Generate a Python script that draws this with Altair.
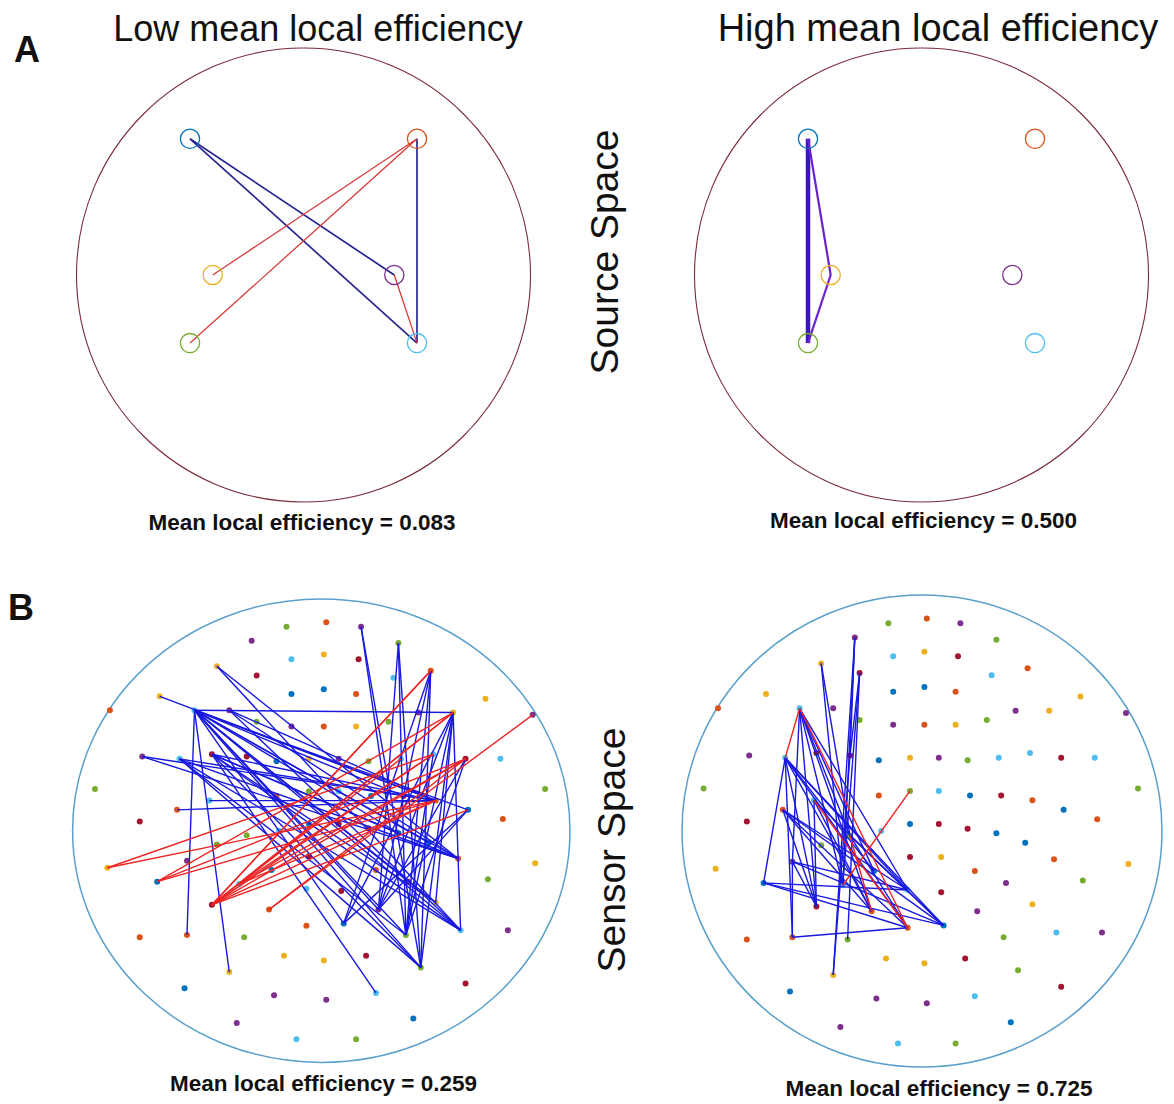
import altair as alt
import pandas as pd

# ---------------- data ----------------
PALETTE_NAMES = ["blue", "orange", "yellow", "purple", "green", "cyan", "darkred"]
PALETTE_HEX = ["#0072BD", "#D95319", "#EDB120", "#7E2F8E", "#77AC30", "#4DBEEE", "#A2142F"]

# Source space: six sources, head-centred coordinates (head radius = 100)
src_u = [-50, 50, -40, 40, -50, 50]
src_v = [60, 60, 0, 0, -30, -30]
src_col = ["blue", "orange", "yellow", "purple", "green", "cyan"]

# connections between sources (0-based indices)
low_src_pos = [(0, 5), (0, 3), (1, 5)]
low_src_neg = [(1, 2), (1, 4), (3, 5)]
high_src_strong = [(0, 4)]
high_src_weak = [(0, 2), (2, 4)]

# Sensor space: sensor layout, head-centred coordinates (head radius = 100)
sens_u = [-14, 2, 16, 31, -12, 1, 15, 44, 29, -28,
          -42, -26, -65, -85, -12, 1, 14, 66, 39, 53,
          85, -51, -37, -26, -12, 1, 14, 27, -72, -57,
          -30, -18, -5, 7, 19, 32, 45, 58, 72, -91,
          -45, -18, -5, 7, 20, 33, 46, 59, 90, -73,
          -58, -17, -5, 7, 19, 31, 43, 73, -30, -42,
          -86, -54, -5, 8, 55, 86, 22, 35, 67, -66,
          -6, 8, 46, -44, -21, 23, -6, 9, 56, 75,
          34, -73, -54, -31, -15, 1, 18, 40, -37, 58,
          -55, -19, 2, 22, 37, -34, -10, 14, -44, -33,
          -20]
sens_v = [88, 90, 88, 81, 74, 76, 74, 69, 66, 82,
          71, 67, 58, 52, 59, 61, 59, 57, 51, 51,
          50, 52, 52, 47, 45, 45, 45, 47, 32, 31,
          32, 30, 31, 31, 30, 31, 33, 31, 31, 18,
          13, 15, 17, 17, 15, 15, 13, 9, 18, 4,
          9, 0, 3, 3, 1, -1, -5, 5, -2, -6,
          -16, -13, -11, -11, -12, -14, -17, -22, -21, -22,
          -25, -26, -31, -32, -34, -34, -41, -40, -43, -43,
          -45, -46, -45, -46, -54, -56, -54, -59, -61, -66,
          -68, -71, -73, -70, -81, -83, -90, -90, 33, -23,
          -17]
sens_col = ["green", "orange", "purple", "green", "cyan", "yellow", "darkred", "orange", "cyan", "purple",
            "yellow", "darkred", "yellow", "orange", "blue", "blue", "orange", "yellow", "purple", "yellow",
            "purple", "cyan", "purple", "green", "purple", "orange", "yellow", "green", "purple", "cyan",
            "darkred", "blue", "yellow", "purple", "green", "cyan", "cyan", "darkred", "cyan", "green",
            "cyan", "orange", "green", "cyan", "blue", "darkred", "orange", "blue", "green", "darkred",
            "orange", "cyan", "blue", "darkred", "darkred", "blue", "blue", "orange", "green", "green",
            "yellow", "purple", "darkred", "yellow", "orange", "yellow", "orange", "purple", "green", "blue",
            "cyan", "darkred", "yellow", "darkred", "orange", "purple", "orange", "blue", "cyan", "purple",
            "green", "orange", "orange", "green", "yellow", "yellow", "darkred", "green", "yellow", "darkred",
            "blue", "purple", "purple", "cyan", "blue", "purple", "cyan", "green", "darkred", "cyan",
            "blue"]

# connections between sensors (1-based sensor numbers)
low_sens_pos = [(22, 20), (22, 83), (22, 89), (13, 47),
                (22, 47), (22, 65), (22, 79), (22, 88), (22, 76), (22, 81), (22, 78),
                (22, 73), (22, 68), (22, 56), (22, 46), (22, 57), (22, 48),
                (11, 65), (11, 79), (29, 47), (29, 65),
                (30, 88), (30, 79), (30, 81), (30, 65), (30, 47),
                (99, 94), (99, 56), (99, 65), (99, 88), (99, 73), (99, 79), (99, 47),
                (23, 47), (23, 65), (23, 79),
                (51, 47), (41, 47), (3, 88), (3, 81), (4, 88), (4, 81), (4, 76),
                (8, 76), (8, 81), (8, 78), (8, 88),
                (20, 76), (20, 81), (20, 78), (20, 79), (20, 88), (20, 73),
                (38, 76), (38, 81), (48, 78), (48, 76), (37, 81)]
low_sens_neg = [(21, 75), (8, 74), (61, 47), (61, 37), (70, 47), (70, 20), (70, 38),
                (74, 20), (74, 37), (74, 38), (74, 47), (74, 8), (74, 48), (74, 36),
                (100, 37), (100, 20), (100, 38), (100, 47), (75, 38)]
high_sens_pos = [(22, 71), (22, 75), (22, 74), (22, 100), (22, 62), (22, 59), (22, 101),
                 (10, 100), (10, 89), (10, 31), (12, 84), (12, 31), (12, 100),
                 (11, 100), (11, 59),
                 (30, 71), (30, 77), (30, 75), (30, 78), (30, 74), (30, 70), (30, 83), (30, 101),
                 (51, 77), (51, 78), (51, 75), (51, 71), (51, 74),
                 (70, 77), (70, 78), (70, 71), (83, 77), (83, 62),
                 (74, 62), (74, 41), (89, 31), (62, 78), (62, 71),
                 (41, 78), (41, 75), (59, 78), (59, 77)]
high_sens_neg = [(43, 100), (22, 77), (22, 30), (41, 77), (59, 75)]

TXT_LOW = "Low mean local efficiency"
TXT_HIGH = "High mean local efficiency"
TXT_SOURCE = "Source Space"
TXT_SENSOR = "Sensor Space"
EFF_VALUES = ["0.083", "0.500", "0.259", "0.725"]

# ---------------- styling / layout ----------------
FONT = "Liberation Sans"
EDGE_BLUE = "#1818e0"
EDGE_RED = "#ee2424"
SRC_HEAD = "#7a2a36"
SENS_HEAD = "#5aa0cc"

# panel boxes in page pixels (x0, y0, x1, y1); chart origin is at page (8, 8)
BOX_AL = (8, 8, 580, 564)
BOX_AR = (580, 8, 1166, 564)
BOX_BL = (8, 564, 580, 1100)
BOX_BR = (580, 564, 1166, 1100)
# head geometry: centre (page px) and px per head unit
HEAD_AL = (303.5, 275, 2.27, 2.27)
HEAD_AR = (921.5, 275, 2.27, 2.27)
HEAD_BL = (321.3, 830.7, 2.487, 2.317)
HEAD_BR = (922, 831, 2.40, 2.36)

palette = alt.Scale(domain=PALETTE_NAMES, range=PALETTE_HEX)


def scales(box, head):
    x0, y0, x1, y1 = box
    cx, cy, kx, ky = head
    xs = alt.Scale(domain=[(x0 - cx) / kx, (x1 - cx) / kx], nice=False, zero=False)
    ys = alt.Scale(domain=[(cy - y1) / ky, (cy - y0) / ky], nice=False, zero=False)
    return xs, ys


def local(px, py, head):
    cx, cy, kx, ky = head
    return (px - cx) / kx, (cy - py) / ky


def head_layer(xs, ys, head, color, width):
    cx, cy, kx, ky = head
    k = ky / kx
    path = f"M -1 0 A 1 {k:.4f} 0 1 1 1 0 A 1 {k:.4f} 0 1 1 -1 0"
    size = (200 * kx) ** 2
    df = pd.DataFrame({"u": [0], "v": [0]})
    return alt.Chart(df).mark_point(
        shape=path, size=size, filled=False, stroke=color, strokeWidth=width, opacity=1
    ).encode(x=alt.X("u:Q", scale=xs, axis=None), y=alt.Y("v:Q", scale=ys, axis=None))


def nodes_df(us, vs, cols):
    return pd.DataFrame({"u": us, "v": vs, "col": cols})


def edges_df(us, vs, pairs, base):
    rows = []
    for a, b in pairs:
        a -= base
        b -= base
        rows.append({"u": us[a], "v": vs[a], "u2": us[b], "v2": vs[b]})
    return pd.DataFrame(rows)


def edge_layer(df, xs, ys, color, width):
    return alt.Chart(df).mark_rule(color=color, strokeWidth=width, opacity=1).encode(
        x=alt.X("u:Q", scale=xs, axis=None), y=alt.Y("v:Q", scale=ys, axis=None),
        x2="u2:Q", y2="v2:Q")


def text_layer(txt, px, py, head, xs, ys, size, weight="normal", angle=0):
    u, v = local(px, py, head)
    return alt.Chart(pd.DataFrame({"d": [0]})).mark_text(
        text=txt, font=FONT, fontSize=size, fontWeight=weight, angle=angle,
        align="center", baseline="middle", color="#111111"
    ).encode(x=alt.XDatum(u, type="quantitative", scale=xs, axis=None),
             y=alt.YDatum(v, type="quantitative", scale=ys, axis=None))


def source_panel(box, head, edge_layers_fn, texts):
    xs, ys = scales(box, head)
    layers = [head_layer(xs, ys, head, SRC_HEAD, 1.1)]
    layers += edge_layers_fn(xs, ys)
    layers.append(alt.Chart(nodes_df(src_u, src_v, src_col)).mark_point(
        shape="circle", size=370, filled=False, strokeWidth=1.3, opacity=1
    ).encode(x=alt.X("u:Q", scale=xs, axis=None), y=alt.Y("v:Q", scale=ys, axis=None),
             color=alt.Color("col:N", scale=palette, legend=None)))
    for t in texts:
        layers.append(text_layer(t[0], t[1], t[2], head, xs, ys, t[3], t[4], t[5]))
    return alt.layer(*layers).properties(width=box[2] - box[0], height=box[3] - box[1])


def sensor_panel(box, head, pos, neg, texts):
    xs, ys = scales(box, head)
    layers = [head_layer(xs, ys, head, SENS_HEAD, 1.5)]
    layers.append(alt.Chart(nodes_df(sens_u, sens_v, sens_col)).mark_circle(size=36, opacity=1).encode(
        x=alt.X("u:Q", scale=xs, axis=None), y=alt.Y("v:Q", scale=ys, axis=None),
        color=alt.Color("col:N", scale=palette, legend=None)))
    layers.append(edge_layer(edges_df(sens_u, sens_v, pos, 1), xs, ys, EDGE_BLUE, 1.4))
    layers.append(edge_layer(edges_df(sens_u, sens_v, neg, 1), xs, ys, EDGE_RED, 1.4))
    for t in texts:
        layers.append(text_layer(t[0], t[1], t[2], head, xs, ys, t[3], t[4], t[5]))
    return alt.layer(*layers).properties(width=box[2] - box[0], height=box[3] - box[1])


def eff(i):
    return f"Mean local efficiency = {EFF_VALUES[i]}"


p_al = source_panel(
    BOX_AL, HEAD_AL,
    lambda xs, ys: [
        edge_layer(edges_df(src_u, src_v, low_src_pos, 0), xs, ys, "#27278f", 1.7),
        edge_layer(edges_df(src_u, src_v, low_src_neg, 0), xs, ys, "#d63a3a", 1.3),
    ],
    [("A", 27, 51, 36, "bold", 0),
     (TXT_LOW, 318, 30, 36, "normal", 0),
     (eff(0), 302, 523, 22.5, "bold", 0)])

p_ar = source_panel(
    BOX_AR, HEAD_AR,
    lambda xs, ys: [
        edge_layer(edges_df(src_u, src_v, high_src_strong, 0), xs, ys, "#3a14c4", 4.5),
        edge_layer(edges_df(src_u, src_v, high_src_weak, 0), xs, ys, "#6a22cc", 2.2),
    ],
    [(TXT_HIGH, 938, 29.5, 38, "normal", 0),
     (TXT_SOURCE, 606, 252, 39, "normal", 270),
     (eff(1), 923.5, 521, 22.5, "bold", 0)])

p_bl = sensor_panel(BOX_BL, HEAD_BL, low_sens_pos, low_sens_neg,
                    [("B", 21, 609, 36, "bold", 0),
                     (eff(2), 323.5, 1084, 22.5, "bold", 0)])

p_br = sensor_panel(BOX_BR, HEAD_BR, high_sens_pos, high_sens_neg,
                    [(TXT_SENSOR, 613, 850, 39, "normal", 270),
                     (eff(3), 939, 1089, 22.5, "bold", 0)])

indep = dict(x="independent", y="independent", color="independent")
row_a = alt.hconcat(p_al, p_ar, spacing=0).resolve_scale(**indep)
row_b = alt.hconcat(p_bl, p_br, spacing=0).resolve_scale(**indep)
chart = alt.vconcat(row_a, row_b, spacing=0).resolve_scale(**indep).properties(
    padding=0, background="white"
).configure_view(stroke=None)

chart.save("out.html", embed_options={"renderer": "svg", "actions": False})
